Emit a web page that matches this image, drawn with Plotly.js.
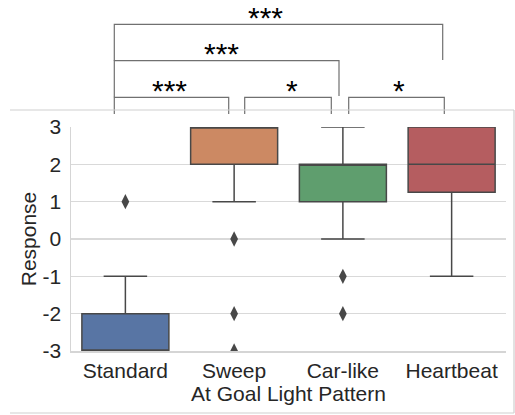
<!DOCTYPE html>
<html>
<head>
<meta charset="utf-8">
<script src="https://cdn.plot.ly/plotly-3.0.1.min.js"></script>
<style>html,body{margin:0;padding:0;background:#fff;}#chart{width:515px;height:415px;}</style>
</head>
<body>
<div id="chart"></div>
<script>
// ---- data ----
const categories = ["Standard", "Sweep", "Car-like", "Heartbeat"];
const q1 = [-3, 2, 1, 1.25];
const medians = [-3, 3, 2, 2];
const q3 = [-2, 3, 2, 3];
const lowerWhisker = [-3, 1, 0, -1];
const upperWhisker = [-1, 3, 3, 3];
const outlierCats = ["Standard", "Sweep", "Sweep", "Sweep", "Car-like", "Car-like"];
const outlierVals = [1, 0, -2, -3, -1, -2];
const yTicks = [-3, -2, -1, 0, 1, 2, 3];
const boxColors = ["#5875a4", "#cc8963", "#5f9e6e", "#b55d60"];
const xTitle = "At Goal Light Pattern";
const yTitle = "Response";
// significance brackets: [fromCat, toCat, label]
const sigPairs = [[0, 1, "***"], [1, 2, "*"], [2, 3, "*"], [0, 2, "***"], [0, 3, "***"]];

// ---- layout geometry (pixels) ----
const W = 515, H = 415;
const M = {l: 71, r: 9, t: 127, b: 64};
const pw = W - M.l - M.r, ph = H - M.t - M.b;
const px2x = p => (p - M.l) / pw;
const py2y = p => (H - M.b - p) / ph;

const traces = categories.map((c, i) => ({
  type: "box",
  x: [c],
  q1: [q1[i]], median: [medians[i]], q3: [q3[i]],
  lowerfence: [lowerWhisker[i]], upperfence: [upperWhisker[i]],
  fillcolor: boxColors[i],
  line: {color: "#484848", width: 1.5},
  width: 0.8,
  whiskerwidth: 0.5,
  boxpoints: false,
  hoverinfo: "skip",
  showlegend: false
}));
traces.push({
  type: "scatter", mode: "markers",
  x: outlierCats, y: outlierVals,
  marker: {symbol: "diamond-tall", size: 11, color: "#484848"},
  cliponaxis: true, hoverinfo: "skip", showlegend: false
});

// bracket pixel geometry
const brX = [[114.3, 228.7], [244.7, 331.3], [348.7, 444.3], [114.3, 339], [114.3, 442.7]];
const brTop = [97.3, 97.3, 97.3, 60.7, 24.3];
const brBot = [[114, 114], [114, 114], [114, 114], [97.3, 96], [60.7, 60]];
const brTextX = [169, 291.7, 399.3, 221, 265.7];
const brTextY = [86, 86, 86, 49, 13];   // centre of the star glyphs

const shapes = [];
const annotations = [];
const lc = {color: "#707070", width: 1.2};
sigPairs.forEach((p, k) => {
  const [a, b] = brX[k];
  shapes.push({type: "path", xref: "paper", yref: "paper",
    path: `M ${px2x(a)} ${py2y(brBot[k][0])} L ${px2x(a)} ${py2y(brTop[k])} L ${px2x(b)} ${py2y(brTop[k])} L ${px2x(b)} ${py2y(brBot[k][1])}`,
    line: lc});
  annotations.push({xref: "paper", yref: "paper", x: px2x(brTextX[k]), y: py2y(brTextY[k] - 13),
    text: p[2], showarrow: false, xanchor: "center", yanchor: "top",
    borderpad: 0, height: 22, valign: "top",
    font: {family: "Liberation Sans, Arial, sans-serif", size: 30, color: "#000"}});
});
// outer frame
const fc = {color: "#cfcfcf", width: 1.2};
shapes.push({type: "line", xref: "paper", yref: "paper", x0: px2x(10), x1: px2x(514), y0: py2y(110), y1: py2y(110), line: fc});
shapes.push({type: "line", xref: "paper", yref: "paper", x0: px2x(514), x1: px2x(514), y0: py2y(110), y1: py2y(413), line: fc});
shapes.push({type: "line", xref: "paper", yref: "paper", x0: px2x(10), x1: px2x(514), y0: py2y(413), y1: py2y(413), line: fc});

const font = {family: "Liberation Sans, Arial, sans-serif", size: 21, color: "#262626"};
const layout = {
  width: W, height: H,
  margin: M,
  paper_bgcolor: "#fff", plot_bgcolor: "#fff",
  font: font,
  showlegend: false,
  boxmode: "overlay",
  xaxis: {
    type: "category", categoryarray: categories, categoryorder: "array",
    range: [-0.5, 3.5],
    showgrid: false, zeroline: false,
    showline: true, linecolor: "#d5d5d5", linewidth: 1.5,
    ticks: "", ticklabelstandoff: 0,
    tickfont: font,
    title: {text: xTitle, font: font, standoff: 0}
  },
  yaxis: {
    range: [-3, 3],
    tickvals: yTicks, ticktext: yTicks.map(String),
    showgrid: true, gridcolor: "#d9d9d9", gridwidth: 1.2,
    zeroline: false,
    showline: true, linecolor: "#d5d5d5", linewidth: 1.5,
    ticks: "", ticklabelstandoff: 4,
    tickfont: font,
    title: {text: yTitle, font: font, standoff: 0}
  },
  shapes: shapes,
  annotations: annotations
};
Plotly.newPlot("chart", traces, layout, {displayModeBar: false, staticPlot: true});
</script>
</body>
</html>
